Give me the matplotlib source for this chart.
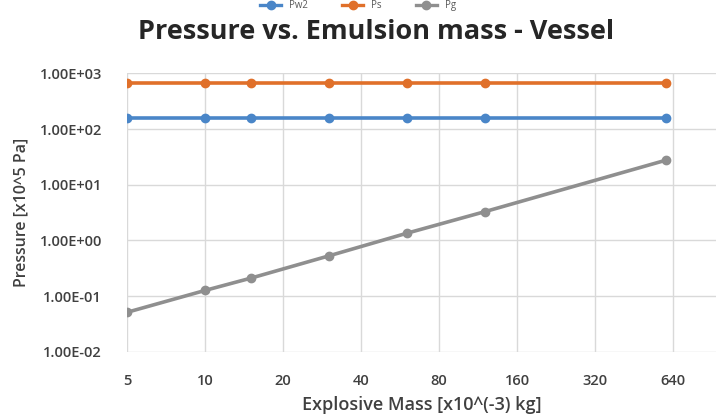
import matplotlib
matplotlib.use("Agg")
import matplotlib.pyplot as plt
from matplotlib.lines import Line2D

# explosive mass [x10^-3 kg]
mass = [5, 10, 15, 30, 60, 120, 600]
# pressure series [x10^5 Pa]
p_blue = [159, 159, 159, 159, 159, 159, 159]
p_orange = [677, 677, 677, 677, 677, 677, 677]
p_gray = [0.051, 0.126, 0.209, 0.525, 1.34, 3.27, 27.5]
series_names = ["Pw2", "Ps", "Pg"]

x_ticks = [5, 10, 20, 40, 80, 160, 320, 640]
y_ticks = [1e-2, 1e-1, 1e0, 1e1, 1e2, 1e3]
y_tick_labels = ["1.00E-02", "1.00E-01", "1.00E+00", "1.00E+01", "1.00E+02", "1.00E+03"]

colors = ["#4a86c8", "#e0702a", "#8f8f8f"]

plt.rcParams['font.family'] = ['Open Sans', 'DejaVu Sans']

fig = plt.figure(figsize=(7.16, 4.16), dpi=100)
ax = fig.add_axes([0.1774, 0.1546, 0.8226, 0.669])

for vals, c in zip([p_blue, p_orange, p_gray], colors):
    ax.plot(mass, vals, color=c, linewidth=2.6, marker='o', markersize=6,
            markeredgecolor=c, solid_capstyle='butt')

ax.set_xscale('log', base=2)
ax.set_yscale('log')
ax.set_xlim(5, 938)
ax.set_ylim(1e-2, 1e3)
ax.set_xticks(x_ticks)
ax.set_xticklabels([str(t) for t in x_ticks])
ax.set_yticks(y_ticks)
ax.set_yticklabels(y_tick_labels)
ax.minorticks_off()

ax.grid(True, color='#d9d9d9', linewidth=1)
ax.set_axisbelow(True)
for s in ax.spines.values():
    s.set_visible(False)
ax.tick_params(length=0, labelsize=10.5, labelcolor='#404040')
ax.tick_params(axis='x', pad=16)
ax.tick_params(axis='y', pad=18)
for lab in ax.get_xticklabels() + ax.get_yticklabels():
    lab.set_fontweight('semibold')

ax.set_xlabel("Explosive Mass [x10^(-3) kg]", fontsize=13, fontweight='semibold',
              color='#404040', labelpad=6)
ax.set_ylabel("Pressure [x10^5 Pa]", fontsize=11.5, fontweight='semibold',
              color='#404040', labelpad=7)

fig.text(0.525, 0.923, "Pressure vs. Emulsion mass - Vessel", ha='center', va='center',
         fontsize=19.5, fontweight='bold', color='#262626')

# legend squeezed against the top edge
handles = [Line2D([0], [0], color=c, linewidth=2.4, marker='o', markersize=6) for c in colors]
fig.legend(handles, series_names, loc='upper center', bbox_to_anchor=(0.5, 1.0),
           ncol=3, frameon=False, fontsize=7, labelcolor='#595959',
           handlelength=2.2, columnspacing=3.5, borderpad=0.05, borderaxespad=0.0)

fig.savefig("out.png", dpi=100)
